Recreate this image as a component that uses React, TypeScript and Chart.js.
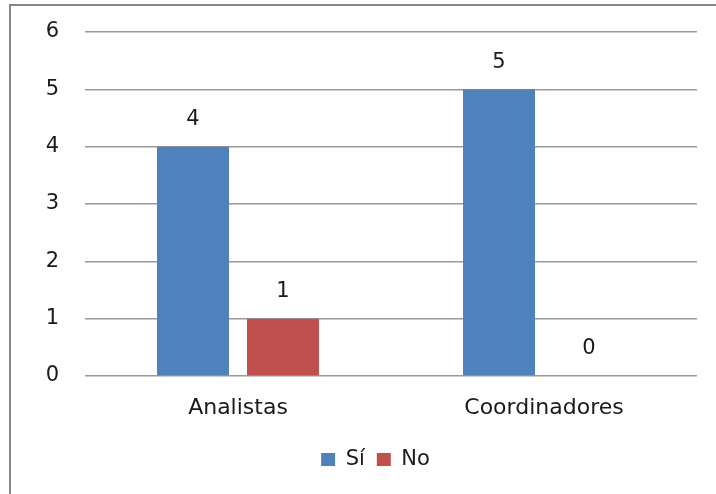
import React, { useEffect, useRef } from "react";
import { Chart, registerables } from "chart.js";

Chart.register(...registerables);

const categories = ["Analistas", "Coordinadores"];
const siValues = [4, 5];
const noValues = [1, 0];
const seriesNames = ["Sí", "No"];
const yTicks = [0, 1, 2, 3, 4, 5, 6];

const FONT = "'DejaVu Sans', sans-serif";
const FS = 21;
const TEXT = "#1a1a1a";

const frame = {
  id: "frame",
  beforeDraw(chart: any) {
    const ctx = chart.ctx;
    ctx.save();
    ctx.fillStyle = "#ffffff";
    ctx.fillRect(0, 0, chart.width, chart.height);
    ctx.fillStyle = "#878787";
    ctx.fillRect(9, 4, chart.width - 9, 2);
    ctx.fillRect(9, 4, 2, chart.height - 4);
    ctx.restore();
  },
};

const valueLabels = {
  id: "valueLabels",
  afterDatasetsDraw(chart: any) {
    const ctx = chart.ctx;
    ctx.save();
    ctx.font = `${FS}px ${FONT}`;
    ctx.fillStyle = TEXT;
    ctx.textAlign = "center";
    ctx.textBaseline = "middle";
    chart.data.datasets.forEach((ds: any, i: number) => {
      const meta = chart.getDatasetMeta(i);
      meta.data.forEach((bar: any, j: number) => {
        ctx.fillText(String(ds.data[j]), bar.x, bar.y - 27);
      });
    });
    ctx.restore();
  },
};

const legendShift = {
  id: "legendShift",
  afterLayout(chart: any) {
    if (chart.legend) {
      chart.legend.left += 27;
      chart.legend.right += 27;
    }
  },
};

export default function App() {
  const ref = useRef<HTMLCanvasElement>(null);
  useEffect(() => {
    const chart = new Chart(ref.current!, {
      type: "bar",
      data: {
        labels: categories,
        datasets: [
          { label: seriesNames[0], data: siValues, backgroundColor: "#4F81BD" },
          { label: seriesNames[1], data: noValues, backgroundColor: "#C0504D" },
        ],
      },
      options: {
        responsive: false,
        animation: false,
        layout: { padding: { left: 0, right: 19, top: 32, bottom: 14 } },
        datasets: { bar: { categoryPercentage: 0.588, barPercentage: 0.8 } } as any,
        scales: {
          x: {
            grid: { display: false, drawTicks: false },
            border: { display: false },
            ticks: { color: TEXT, font: { family: FONT, size: 22 }, padding: 19 },
            afterFit: (s: any) => { s.height = 61; },
          },
          y: {
            min: 0,
            max: 6,
            afterBuildTicks: (s: any) => { s.ticks = yTicks.map((v) => ({ value: v })); },
            grid: { color: "#9a9a9a", lineWidth: 1.5, drawTicks: false },
            border: { display: false },
            ticks: { color: TEXT, font: { family: FONT, size: FS }, padding: 26 },
            afterFit: (s: any) => {
              s.width = 85;
              s.paddingTop = 0;
              s.paddingBottom = 0;
            },
          },
        },
        plugins: {
          legend: {
            position: "bottom",
            labels: {
              boxWidth: 14,
              boxHeight: 13,
              color: TEXT,
              font: { family: FONT, size: FS },
              padding: 12,
            },
          },
          tooltip: { enabled: false },
        },
      },
      plugins: [frame, valueLabels, legendShift],
    });
    return () => chart.destroy();
  }, []);
  return (
    <div style={{ position: "fixed", left: 0, top: 0, width: 716, height: 494, overflow: "hidden", background: "#fff" }}>
      <canvas ref={ref} width={716} height={494} style={{ position: "absolute", left: 0, top: 0 }} />
    </div>
  );
}
